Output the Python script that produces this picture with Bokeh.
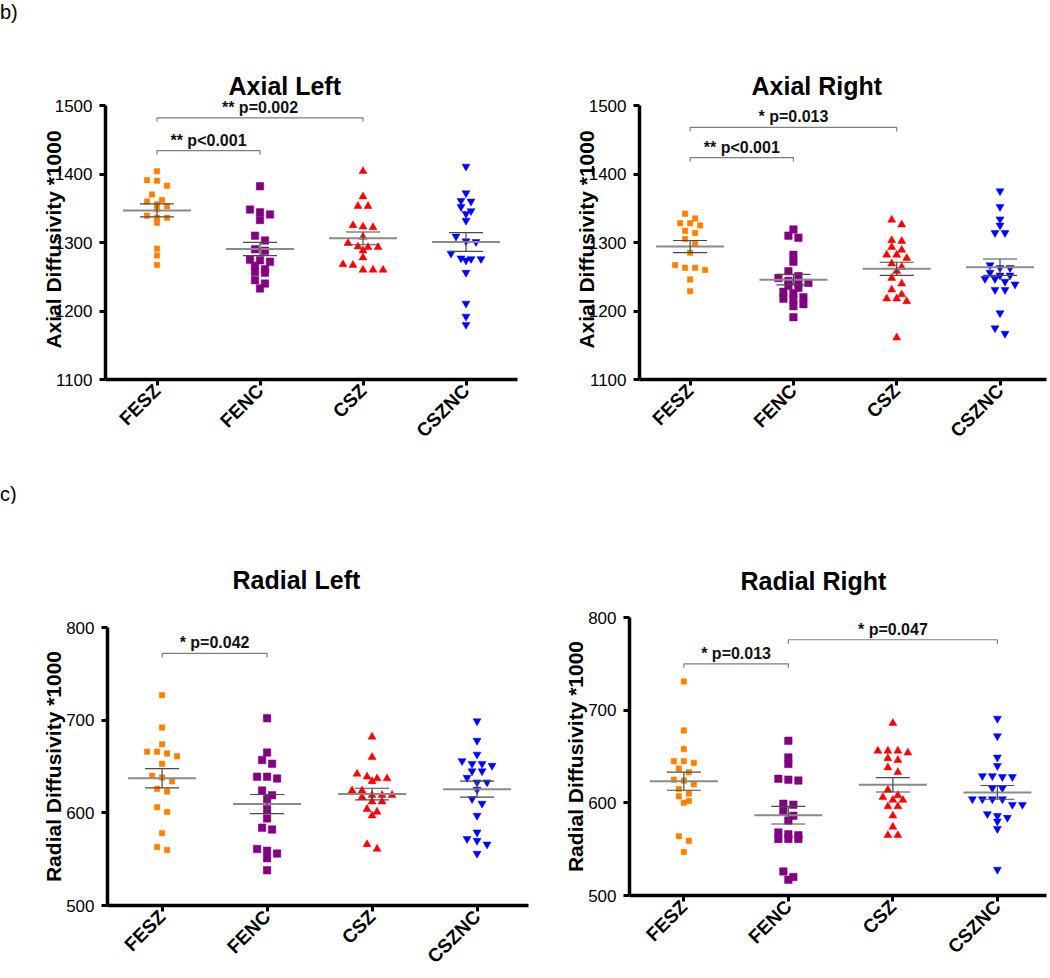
import numpy as np
from bokeh.plotting import figure
from bokeh.models import ColumnDataSource, Label, FixedTicker, Div
from bokeh.layouts import column, row
from bokeh.embed import file_html
from bokeh.resources import INLINE

# ---------------- data ----------------
groups = ["FESZ", "FENC", "CSZ", "CSZNC"]

axial_ticks = [1100, 1200, 1300, 1400, 1500]
radial_ticks = [500, 600, 700, 800]

# Axial Left
al_fesz = [1404, 1391, 1390, 1383, 1370, 1362, 1360, 1356, 1353, 1349, 1339, 1336, 1336, 1329, 1291, 1281, 1267]
al_fenc = [1382, 1348, 1344, 1341, 1333, 1310, 1303, 1290, 1288, 1275, 1274, 1272, 1266, 1261, 1257, 1256, 1245, 1240, 1233]
al_csz = [1404, 1367, 1353, 1353, 1325, 1323, 1322, 1308, 1299, 1294, 1293, 1293, 1288, 1278, 1268, 1267, 1260, 1260, 1260]
al_csznc = [1411, 1372, 1361, 1360, 1352, 1346, 1342, 1332, 1309, 1302, 1301, 1284, 1277, 1276, 1276, 1274, 1256, 1211, 1192, 1180]
al_brackets = [("FESZ", "FENC", 1434, "** p<0.001"), ("FESZ", "CSZ", 1482, "** p=0.002")]

# Axial Right
ar_fesz = [1342, 1335, 1328, 1328, 1325, 1317, 1314, 1305, 1298, 1285, 1267, 1263, 1263, 1260, 1246, 1229]
ar_fenc = [1319, 1310, 1307, 1282, 1272, 1258, 1251, 1248, 1244, 1241, 1241, 1237, 1234, 1228, 1226, 1220, 1218, 1217, 1210, 1207, 1191]
ar_csz = [1333, 1326, 1303, 1302, 1293, 1289, 1282, 1282, 1277, 1269, 1264, 1258, 1248, 1240, 1231, 1224, 1218, 1218, 1214, 1161]
ar_csznc = [1375, 1352, 1334, 1325, 1314, 1314, 1267, 1263, 1263, 1256, 1252, 1252, 1247, 1247, 1243, 1239, 1231, 1231, 1197, 1175, 1167]
ar_brackets = [("FESZ", "FENC", 1424, "** p<0.001"), ("FESZ", "CSZ", 1468, "* p=0.013")]

# Radial Left
rl_fesz = [727, 692, 674, 666, 666, 664, 661, 653, 640, 638, 634, 626, 623, 606, 601, 578, 563, 560]
rl_fenc = [702, 665, 657, 653, 639, 639, 637, 624, 619, 615, 604, 594, 584, 582, 561, 559, 556, 551, 538]
rl_csz = [682, 660, 642, 639, 637, 637, 634, 624, 624, 619, 619, 619, 617, 612, 612, 604, 601, 597, 566, 561]
rl_csznc = [699, 678, 663, 656, 653, 653, 651, 645, 645, 638, 633, 633, 625, 615, 610, 597, 579, 572, 570, 566, 556]
rl_brackets = [("FESZ", "FENC", 772, "* p=0.042")]

# Radial Right
rr_fesz = [731, 678, 658, 645, 645, 643, 637, 633, 625, 624, 620, 615, 610, 607, 602, 600, 564, 559, 547]
rr_fenc = [667, 649, 642, 626, 625, 624, 599, 598, 591, 586, 581, 568, 566, 565, 561, 561, 561, 526, 520, 517]
rr_csz = [686, 656, 656, 656, 654, 648, 646, 638, 633, 614, 608, 606, 603, 603, 596, 596, 586, 574, 565, 565]
rr_csznc = [691, 672, 649, 640, 629, 629, 628, 628, 616, 616, 604, 604, 604, 604, 598, 598, 588, 586, 584, 580, 572, 528]
rr_brackets = [("FESZ", "FENC", 750, "* p=0.013"), ("FENC", "CSZNC", 776, "* p=0.047")]

# ---------------- styles ----------------
FONT = "Liberation Sans"
group_styles = [
    dict(marker="square", color="#FF8000", size=5.5),
    dict(marker="square", color="#800080", size=7.5),
    dict(marker="triangle", color="#FF0000", size=8),
    dict(marker="inverted_triangle", color="#0000FF", size=8),
]


def swarm(vals, row_units, step):
    vals = np.asarray(vals, dtype=float)
    order = np.argsort(-vals, kind="stable")
    rows, cur, start = [], [], None
    for i in order:
        if start is None or start - vals[i] > row_units:
            if cur:
                rows.append(cur)
            cur, start = [i], vals[i]
        else:
            cur.append(i)
    if cur:
        rows.append(cur)
    offs = np.zeros(len(vals))
    for r in rows:
        n = len(r)
        for k, i in enumerate(r):
            offs[i] = (k - (n - 1) / 2.0) * step
    return offs


def make_panel(title, ylabel, yticks, series, brackets, frame_w, px_unit, extra_top_px, xr,
               borders, title_offset, title_standoff, label_standoff):
    y0, y1 = yticks[0], yticks[-1]
    ytop = y1 + extra_top_px / px_unit
    frame_h = int(round((ytop - y0) * px_unit))
    p = figure(title=title, x_range=xr, y_range=(y0, ytop),
               frame_width=frame_w, frame_height=frame_h,
               min_border_left=borders[0], min_border_right=borders[1],
               min_border_top=borders[2], min_border_bottom=borders[3],
               output_backend="svg", toolbar_location=None, margin=(0, 0, 0, 0))
    px_cat = frame_w / (xr[1] - xr[0])

    for gi, (vals, st) in enumerate(zip(series, group_styles)):
        offs = swarm(vals, 6.0 / px_unit, 10.0 / px_cat)
        src = ColumnDataSource(dict(x=gi + offs, y=vals))
        p.scatter("x", "y", source=src, marker=st["marker"], size=st["size"],
                  fill_color=st["color"], line_color=st["color"], line_width=0.5)
        m = float(np.mean(vals))
        s = float(np.std(vals, ddof=1) / np.sqrt(len(vals)))
        hw = 34.0 / px_cat
        cw = 17.0 / px_cat
        p.segment(x0=[gi - hw], x1=[gi + hw], y0=[m], y1=[m],
                  line_color="#8a8a8a", line_width=2)
        p.segment(x0=[gi - cw, gi - cw, gi], x1=[gi + cw, gi + cw, gi],
                  y0=[m + s, m - s, m - s], y1=[m + s, m - s, m + s],
                  line_color="#4a4a4a", line_width=1.2)

    tick_units = 4.0 / px_unit
    xs, ys = [], []
    for g0, g1, yb, txt in brackets:
        i0, i1 = groups.index(g0), groups.index(g1)
        xs.append([i0, i0, i1, i1])
        ys.append([yb - tick_units, yb, yb, yb - tick_units])
        p.add_layout(Label(x=(i0 + i1) / 2.0, y=yb, text=txt, text_align="center",
                           text_baseline="bottom", y_offset=2,
                           text_font=FONT, text_font_size="16px",
                           text_font_style="bold", text_color="#111111"))
    p.multi_line(xs, ys, line_color="#7f7f7f", line_width=1.2)

    p.xaxis.ticker = FixedTicker(ticks=list(range(len(groups))))
    p.xaxis.major_label_overrides = {i: g for i, g in enumerate(groups)}
    p.xaxis.major_label_orientation = np.pi / 4
    p.xaxis.major_label_text_font_size = "19px"
    p.xaxis.major_label_text_font_style = "bold"
    p.xaxis.major_label_standoff = 2
    p.yaxis.ticker = FixedTicker(ticks=yticks)
    p.yaxis.bounds = (y0, y1)
    p.yaxis.major_label_text_font_size = "17px"
    p.yaxis.major_label_standoff = 7
    p.yaxis.axis_label = ylabel
    p.yaxis.axis_label_text_font = FONT
    p.yaxis.axis_label_text_font_size = "21px"
    p.yaxis.axis_label_text_font_style = "bold"
    p.yaxis.axis_label_text_color = "black"
    p.yaxis.axis_label_standoff = label_standoff
    for ax in (p.xaxis[0], p.yaxis[0]):
        ax.axis_line_width = 3.5
        ax.axis_line_color = "black"
        ax.major_tick_line_width = 3
        ax.major_tick_line_color = "black"
        ax.major_tick_out = 6
        ax.major_tick_in = 0
        ax.minor_tick_line_color = None
        ax.major_label_text_font = FONT
        ax.major_label_text_color = "black"
    p.xgrid.visible = False
    p.ygrid.visible = False
    p.outline_line_color = None

    p.title.align = "left"
    p.title.offset = title_offset
    p.title.standoff = title_standoff
    p.title.text_font = FONT
    p.title.text_font_size = "25px"
    p.title.text_font_style = "bold"
    p.title.text_color = "black"
    return p


AX_PX = 274.0 / 400.0
RA_PX = 278.0 / 300.0

p1 = make_panel("Axial Left", "Axial Diffusivity *1000", axial_ticks,
                [al_fesz, al_fenc, al_csz, al_csznc], al_brackets,
                412, AX_PX, 6, (-0.5, 3.5), (105, 25, 71, 104), 123, 0, -13)
p2 = make_panel("Axial Right", "Axial Diffusivity *1000", axial_ticks,
                [ar_fesz, ar_fenc, ar_csz, ar_csznc], ar_brackets,
                407, AX_PX, 6, (-0.49, 3.45), (97, 2, 71, 104), 112, 0, -12)
p3 = make_panel("Radial Left", "Radial Diffusivity *1000", radial_ticks,
                [rl_fesz, rl_fenc, rl_csz, rl_csznc], rl_brackets,
                421, RA_PX, 0, (-0.52, 3.49), (107, 4, 124, 70), 125, 67, -2)
p4 = make_panel("Radial Right", "Radial Diffusivity *1000", radial_ticks,
                [rr_fesz, rr_fenc, rr_csz, rr_csznc], rr_brackets,
                417, RA_PX, 0, (-0.52, 3.47), (97, 2, 114, 80), 111, 45, -2)

div_b = Div(text="b)", width=40, height=28, margin=(0, 0, 0, 0),
            styles={"font-size": "20px", "font-family": FONT, "line-height": "22px",
                    "color": "black", "padding-top": "1px"})
div_c = Div(text="c)", width=40, height=20, margin=(0, 0, 0, 0),
            styles={"font-size": "20px", "font-family": FONT, "line-height": "22px",
                    "color": "black"})

layout = column(div_b, row(p1, p2, spacing=0), div_c,
                row(p3, column(p4, spacing=0), spacing=0),
                spacing=0, margin=(0, 0, 0, 0))

open("out.html", "w").write(file_html(layout, INLINE))
